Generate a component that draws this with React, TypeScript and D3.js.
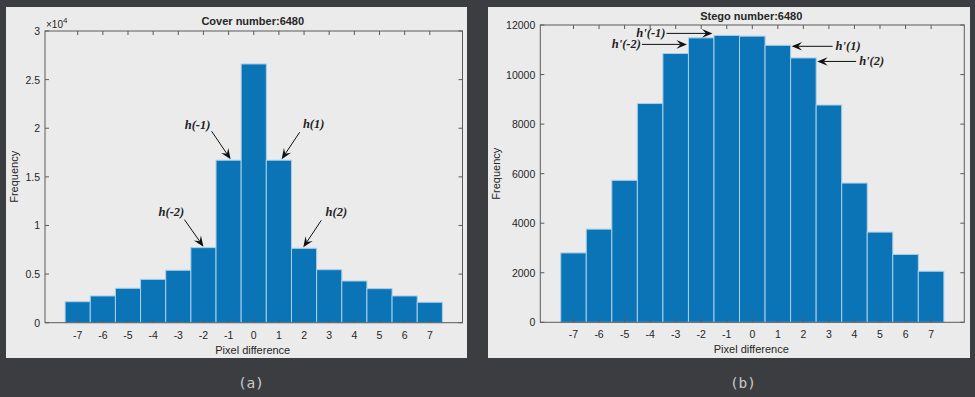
import React from "react";
import * as d3 from "d3";

const categories = [-7, -6, -5, -4, -3, -2, -1, 0, 1, 2, 3, 4, 5, 6, 7];
const coverValues = [2160, 2750, 3540, 4460, 5390, 7720, 16710, 26610, 16710, 7650, 5450, 4290, 3500, 2750, 2100];
const stegoValues = [2800, 3760, 5730, 8830, 10850, 11480, 11580, 11550, 11180, 10670, 8770, 5620, 3640, 2740, 2060];
const coverTicks = [0, 5000, 10000, 15000, 20000, 25000, 30000];
const coverTickLabels = ["0", "0.5", "1", "1.5", "2", "2.5", "3"];
const stegoTicks = [0, 2000, 4000, 6000, 8000, 10000, 12000];
const stegoTickLabels = ["0", "2000", "4000", "6000", "8000", "10000", "12000"];
const coverTitle = "Cover number:6480";
const stegoTitle = "Stego number:6480";
const coverNotes = [
  { label: "h(-1)", cat: -1 },
  { label: "h(1)", cat: 1 },
  { label: "h(-2)", cat: -2 },
  { label: "h(2)", cat: 2 },
];
const stegoNotes = [
  { label: "h'(-1)", cat: -1 },
  { label: "h'(-2)", cat: -2 },
  { label: "h'(1)", cat: 1 },
  { label: "h'(2)", cat: 2 },
];

const SANS = "'Liberation Sans', Arial, sans-serif";
const SERIF = "'Liberation Serif', 'Times New Roman', serif";
const AX = "#5a5a5a";
const TXT = "#262626";
const BAR = "#0a74b6";
const EDGE = "#a9cfe8";

function Arrow({ x1, y1, x2, y2 }: { x1: number; y1: number; x2: number; y2: number }) {
  const ang = Math.atan2(y2 - y1, x2 - x1);
  const L = 10.5, W = 4.3, N = 6.5;
  const bx = x2 - L * Math.cos(ang), by = y2 - L * Math.sin(ang);
  const nx = x2 - N * Math.cos(ang), ny = y2 - N * Math.sin(ang);
  const px = -Math.sin(ang), py = Math.cos(ang);
  const d = `M${x2},${y2} L${bx + px * W},${by + py * W} L${nx},${ny} L${bx - px * W},${by - py * W} Z`;
  return (
    <g>
      <line x1={x1} y1={y1} x2={nx} y2={ny} stroke="#111" strokeWidth={1} />
      <path d={d} fill="#111" />
    </g>
  );
}

function Panel({
  px, pw, ax0, ax1, ay0, ay1, values, yMax, ticks, tickLabels, title, titleY, freqX, children,
}: any) {
  const x = d3.scaleLinear().domain([-8.3, 8.3]).range([ax0, ax1]);
  const y = d3.scaleLinear().domain([0, yMax]).range([ay1, ay0]);
  const tl = 4;
  return (
    <g>
      <rect x={px} y={7} width={pw} height={351} fill="#ebebeb" />
      {categories.map((c, i) => (
        <rect key={c} x={x(c - 0.5)} y={y(values[i])} width={x(c + 0.5) - x(c - 0.5)} height={y(0) - y(values[i])}
          fill={BAR} stroke={EDGE} strokeWidth={1} />
      ))}
      <rect x={ax0} y={ay0} width={ax1 - ax0} height={ay1 - ay0} fill="none" stroke={AX} strokeWidth={1} />
      {categories.map((c) => (
        <g key={"xt" + c}>
          <line x1={x(c)} x2={x(c)} y1={ay1} y2={ay1 - tl} stroke={AX} />
          <line x1={x(c)} x2={x(c)} y1={ay0} y2={ay0 + tl} stroke={AX} />
          <text x={x(c)} y={ay1 + 16} textAnchor="middle" fontFamily={SANS} fontSize={10.5} fill={TXT}>{c}</text>
        </g>
      ))}
      {ticks.map((t: number, i: number) => (
        <g key={"yt" + t}>
          <line x1={ax0} x2={ax0 + tl} y1={y(t)} y2={y(t)} stroke={AX} />
          <line x1={ax1} x2={ax1 - tl} y1={y(t)} y2={y(t)} stroke={AX} />
          <text x={ax0 - 5} y={y(t) + 4} textAnchor="end" fontFamily={SANS} fontSize={10.5} fill={TXT}>{tickLabels[i]}</text>
        </g>
      ))}
      <text x={(ax0 + ax1) / 2 - 1} y={titleY} textAnchor="middle" fontFamily={SANS} fontWeight="bold" fontSize={11} fill={TXT}>{title}</text>
      <text x={(ax0 + ax1) / 2 - 1} y={ay1 + 31} textAnchor="middle" fontFamily={SANS} fontSize={11} fill={TXT}>Pixel difference</text>
      <text transform={`translate(${freqX},${(ay0 + ay1) / 2}) rotate(-90)`} textAnchor="middle" fontFamily={SANS} fontSize={11} fill={TXT}>Frequency</text>
      {children(x, y)}
    </g>
  );
}

export default function App() {
  const val = (arr: number[], c: number) => arr[categories.indexOf(c)];
  return (
    <div style={{ position: "fixed", left: 0, top: 0 }}>
      <svg width={975} height={397} style={{ display: "block" }}>
        <rect width={975} height={397} fill="#3c3d40" />
        <Panel px={6} pw={461} ax0={45} ax1={462.5} ay0={31} ay1={322.7} values={coverValues} yMax={30000}
          ticks={coverTicks} tickLabels={coverTickLabels} title={coverTitle} titleY={25} freqX={18}>
          {(x: any, y: any) => {
            const offs: Record<number, [number, number, number, number, number]> = {
              [-1]: [0.08, -19, -28, -33, -30],
              [1]: [0.11, 18, -27, 32, -31],
              [-2]: [0.0, -19, -27, -32, -31],
              [2]: [-0.03, 18, -27, 33, -31],
            };
            return (
              <g>
                <text x={46} y={27.5} fontFamily={SANS} fontSize={10} fill={TXT}>×10<tspan dy={-4.5} fontSize={8}>4</tspan></text>
                {coverNotes.map((n) => {
                  const [dxc, tx, ty, lx, ly] = offs[n.cat];
                  const x2 = x(n.cat + dxc), y2 = y(val(coverValues, n.cat)) - 1;
                  return (
                    <g key={n.label}>
                      <Arrow x1={x2 + tx} y1={y2 + ty} x2={x2} y2={y2} />
                      <text x={x2 + lx} y={y2 + ly} textAnchor="middle" fontFamily={SERIF} fontStyle="italic" fontWeight="bold" fontSize={12.5} fill="#222">{n.label}</text>
                    </g>
                  );
                })}
              </g>
            );
          }}
        </Panel>
        <Panel px={488} pw={482} ax0={540.3} ax1={964.3} ay0={25} ay1={322.3} values={stegoValues} yMax={12000}
          ticks={stegoTicks} tickLabels={stegoTickLabels} title={stegoTitle} titleY={20} freqX={500}>
          {(x: any, y: any) => {
            const specs: Record<number, { edge: number; dy: number; len: number }> = {
              [-1]: { edge: -1.5, dy: -2, len: -46 },
              [-2]: { edge: -2.5, dy: 6.5, len: -45 },
              [1]: { edge: 1.5, dy: 1, len: 41 },
              [2]: { edge: 2.5, dy: 3.5, len: 39 },
            };
            return (
              <g>
                {stegoNotes.map((n) => {
                  const s = specs[n.cat];
                  const x2 = x(s.edge) + (s.len < 0 ? -1.5 : 1);
                  const y2 = y(val(stegoValues, n.cat)) + s.dy;
                  const x1 = x2 + s.len;
                  return (
                    <g key={n.label}>
                      <Arrow x1={x1} y1={y2} x2={x2} y2={y2} />
                      <text x={s.len < 0 ? x1 - 1 : x1 + 3} y={y2 + 4} textAnchor={s.len < 0 ? "end" : "start"}
                        fontFamily={SERIF} fontStyle="italic" fontWeight="bold" fontSize={12.5} fill="#222">{n.label}</text>
                    </g>
                  );
                })}
              </g>
            );
          }}
        </Panel>
        <text x={251} y={388} textAnchor="middle" fontFamily="'DejaVu Sans Mono', monospace" fontSize={14.5} fill="#c9c9c9">(a)</text>
        <text x={743} y={388} textAnchor="middle" fontFamily="'DejaVu Sans Mono', monospace" fontSize={14.5} fill="#c9c9c9">(b)</text>
      </svg>
    </div>
  );
}
